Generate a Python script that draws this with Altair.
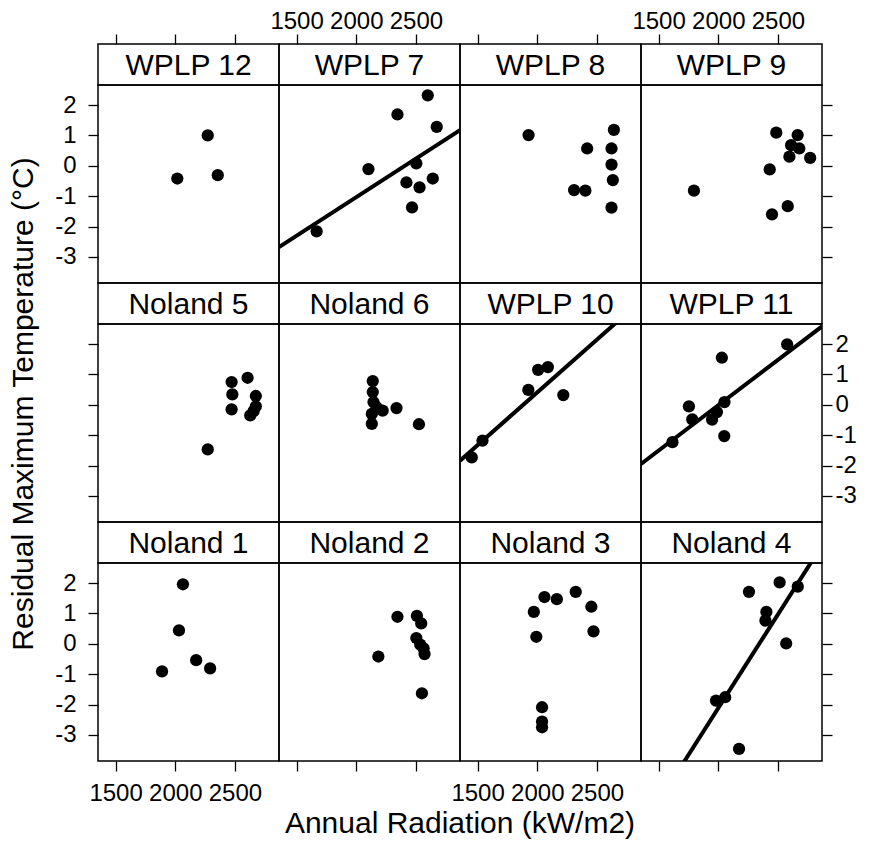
import altair as alt
import pandas as pd

# ---------------- data ----------------
GRID = [
    ["WPLP 12", "WPLP 7", "WPLP 8", "WPLP 9"],
    ["Noland 5", "Noland 6", "WPLP 10", "WPLP 11"],
    ["Noland 1", "Noland 2", "Noland 3", "Noland 4"],
]

RAD_WPLP12 = [2017, 2272, 2356]
RES_WPLP12 = [-0.42, 1.00, -0.31]

RAD_WPLP7 = [1668, 2102, 2345, 2599, 2674, 2503, 2420, 2530, 2641, 2467]
RES_WPLP7 = [-2.16, -0.11, 1.69, 2.32, 1.28, 0.08, -0.55, -0.71, -0.42, -1.37]

RAD_WPLP8 = [1927, 2418, 2308, 2403, 2642, 2622, 2622, 2633, 2622]
RES_WPLP8 = [1.01, 0.57, -0.80, -0.82, 1.18, 0.57, 0.04, -0.47, -1.38]

RAD_WPLP9 = [1796, 2486, 2431, 2450, 2582, 2665, 2610, 2679, 2596, 2770]
RES_WPLP9 = [-0.82, 1.09, -0.12, -1.60, -1.33, 1.01, 0.68, 0.57, 0.30, 0.26]

RAD_NOLAND5 = [2272, 2472, 2478, 2472, 2606, 2675, 2675, 2628, 2656]
RES_NOLAND5 = [-1.47, 0.75, 0.34, -0.15, 0.89, 0.29, -0.05, -0.35, -0.21]

RAD_NOLAND6 = [2138, 2138, 2144, 2130, 2130, 2221, 2337, 2525, 2171]
RES_NOLAND6 = [0.78, 0.42, 0.09, -0.30, -0.63, -0.19, -0.11, -0.64, -0.08]

RAD_WPLP10 = [1451, 1541, 1925, 2007, 2089, 2218]
RES_WPLP10 = [-1.73, -1.18, 0.49, 1.15, 1.24, 0.32]

RAD_WPLP11 = [1616, 1754, 1782, 1948, 1989, 2052, 2030, 2050, 2577]
RES_WPLP11 = [-1.23, -0.05, -0.48, -0.49, -0.24, 0.09, 1.55, -1.03, 1.99]

RAD_NOLAND1 = [1889, 2031, 2064, 2175, 2292]
RES_NOLAND1 = [-0.91, 0.44, 1.96, -0.54, -0.81]

RAD_NOLAND2 = [2185, 2345, 2508, 2544, 2503, 2536, 2564, 2572, 2550]
RES_NOLAND2 = [-0.42, 0.89, 0.92, 0.67, 0.19, -0.03, -0.15, -0.34, -1.63]

RAD_NOLAND3 = [1971, 1992, 2060, 2164, 2322, 2453, 2471, 2040, 2040, 2040]
RES_NOLAND3 = [1.05, 0.23, 1.54, 1.47, 1.71, 1.22, 0.41, -2.09, -2.56, -2.75]

RAD_NOLAND4 = [1981, 2058, 2174, 2257, 2403, 2395, 2514, 2569, 2666]
RES_NOLAND4 = [-1.87, -1.76, -3.46, 1.71, 1.05, 0.76, 2.02, 0.01, 1.88]

FIT_SITES = ["WPLP 7", "WPLP 10", "WPLP 11", "Noland 4"]
FIT_SLOPE = [0.002539, 0.003474, 0.002987, 0.006171]
FIT_INTERCEPT = [-6.114, -6.539, -5.99, -14.46]

X_DOMAIN = [1352.5, 2869]
Y_DOMAIN = [-3.86, 2.66]
X_TICKS = [1500, 2000, 2500]
Y_TICKS = [-3, -2, -1, 0, 1, 2]

X_TITLE = "Annual Radiation (kW/m2)"
Y_TITLE = "Residual Maximum Temperature (°C)"

DATA = {
    "WPLP 12": (RAD_WPLP12, RES_WPLP12),
    "WPLP 7": (RAD_WPLP7, RES_WPLP7),
    "WPLP 8": (RAD_WPLP8, RES_WPLP8),
    "WPLP 9": (RAD_WPLP9, RES_WPLP9),
    "Noland 5": (RAD_NOLAND5, RES_NOLAND5),
    "Noland 6": (RAD_NOLAND6, RES_NOLAND6),
    "WPLP 10": (RAD_WPLP10, RES_WPLP10),
    "WPLP 11": (RAD_WPLP11, RES_WPLP11),
    "Noland 1": (RAD_NOLAND1, RES_NOLAND1),
    "Noland 2": (RAD_NOLAND2, RES_NOLAND2),
    "Noland 3": (RAD_NOLAND3, RES_NOLAND3),
    "Noland 4": (RAD_NOLAND4, RES_NOLAND4),
}
FITS = {s: (b, a) for s, b, a in zip(FIT_SITES, FIT_SLOPE, FIT_INTERCEPT)}

# ---------------- styling ----------------
W, H, S = 181, 198, 41
FONT = "Liberation Sans"
TICK_FS = 24
TITLE_FS = 30

xscale = alt.Scale(domain=X_DOMAIN, nice=False, zero=False)
yscale = alt.Scale(domain=Y_DOMAIN, nice=False, zero=False)


def x_axis(orient, labels):
    return alt.Axis(
        orient=orient, values=X_TICKS, labels=labels, title=None,
        tickSize=10, tickWidth=1.3, tickColor="black", domain=False, grid=False,
        labelFontSize=TICK_FS, labelFont=FONT, labelColor="black",
        labelPadding=(10 if orient == "bottom" else 1),
        labelExpr="'' + datum.value", labelFlush=False, labelOverlap=False,
    )


def y_axis(orient, labels):
    return alt.Axis(
        orient=orient, values=Y_TICKS, labels=labels, title=None,
        tickSize=10, tickWidth=1.3, tickColor="black", domain=False, grid=False,
        labelFontSize=TICK_FS, labelFont=FONT, labelColor="black",
        labelPadding=(12 if orient == "left" else 3),
        labelExpr="'' + datum.value", labelFlush=False, labelOverlap=False,
    )


def strip(site, row, col):
    df = pd.DataFrame({"site": [site], "mid": [(X_DOMAIN[0] + X_DOMAIN[1]) / 2]})
    if row == 0:
        x = alt.X("mid:Q", scale=xscale, axis=x_axis("top", col in (1, 3)))
    else:
        x = alt.value(W / 2)
    return (
        alt.Chart(df)
        .mark_text(fontSize=30, font=FONT, color="black", baseline="alphabetic", align="center")
        .encode(x=x, y=alt.value(30.5), text="site:N")
        .properties(width=W, height=S)
    )


def plot(site, row, col):
    rad, res = DATA[site]
    df = pd.DataFrame({"rad": rad, "res": res})
    xax = x_axis("bottom", col in (0, 2)) if row == 2 else None
    if col == 0:
        yax = y_axis("left", row != 1)
    elif col == 3:
        yax = y_axis("right", row == 1)
    else:
        yax = None
    pts = alt.Chart(df).mark_circle(size=150, color="black", opacity=1).encode(
        x=alt.X("rad:Q", scale=xscale, axis=xax),
        y=alt.Y("res:Q", scale=yscale, axis=yax),
    )
    layers = [pts]
    if site in FITS:
        slope, icpt = FITS[site]
        ldf = pd.DataFrame({"rad": X_DOMAIN, "res": [icpt + slope * v for v in X_DOMAIN]})
        line = alt.Chart(ldf).mark_line(clip=True, color="black", strokeWidth=4).encode(
            x=alt.X("rad:Q", scale=xscale, axis=xax),
            y=alt.Y("res:Q", scale=yscale, axis=yax),
        )
        layers.append(line)
    if row == 1 and col == 0:
        layers.append(
            alt.Chart(pd.DataFrame({"t": [Y_TITLE]}))
            .mark_text(fontSize=TITLE_FS, font=FONT, color="black", angle=270,
                       align="center", baseline="alphabetic")
            .encode(text="t:N", x=alt.value(-65), y=alt.value(80))
        )
    if row == 2 and col == 1:
        layers.append(
            alt.Chart(pd.DataFrame({"t": [X_TITLE]}))
            .mark_text(fontSize=TITLE_FS, font=FONT, color="black",
                       align="center", baseline="alphabetic")
            .encode(text="t:N", x=alt.value(W), y=alt.value(270))
        )
    return alt.layer(*layers).properties(width=W, height=H)


cells = []
for r, names in enumerate(GRID):
    cells += [strip(n, r, c) for c, n in enumerate(names)]
    cells += [plot(n, r, c) for c, n in enumerate(names)]

chart = (
    alt.concat(*cells, columns=4, spacing=0, bounds="flush")
    .properties(
        background="white",
        padding={"left": 0, "top": 0, "right": 0, "bottom": 0},
    )
    .configure_view(stroke="black", strokeWidth=1.5)
    .configure_concat(spacing=0)
)

chart.save("out.html", embed_options={"renderer": "svg", "actions": False})
